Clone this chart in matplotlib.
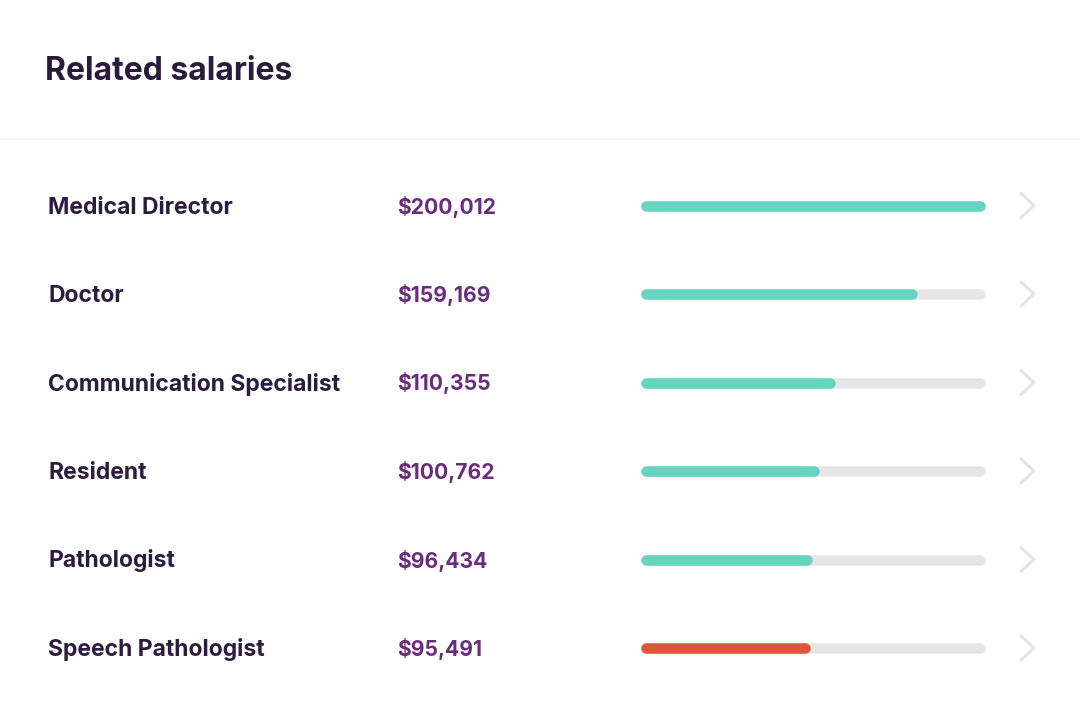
import matplotlib
matplotlib.use("Agg")
import matplotlib.pyplot as plt

# ---- data ----
jobs = ["Medical Director", "Doctor", "Communication Specialist",
        "Resident", "Pathologist", "Speech Pathologist"]
salaries = [200012, 159169, 110355, 100762, 96434, 95491]
highlight = [False, False, False, False, False, True]

TITLE = "Related salaries"
FONT = ["Inter", "DejaVu Sans"]

W, H = 1080, 714
fig = plt.figure(figsize=(W / 100, H / 100), dpi=100)
fig.patch.set_facecolor("white")

# background axes in pixel coords for text / decoration
bg = fig.add_axes([0, 0, 1, 1])
bg.set_xlim(0, W)
bg.set_ylim(H, 0)
bg.axis("off")

bg.text(45, 79.5, TITLE, fontsize=23, fontweight="bold", color="#2a1b3d",
        family=FONT, va="baseline", ha="left")
bg.plot([0, W], [139, 139], color="#efeff1", lw=1.2)

row_y0, row_step = 205.5, 88.5
row_ys = [row_y0 + i * row_step for i in range(len(jobs))]

for job, sal, y in zip(jobs, salaries, row_ys):
    # same baseline for name and salary
    bg.text(48, y + 8, job, fontsize=16.5, fontweight="bold", color="#2b1c40",
            family=FONT, va="baseline", ha="left")
    bg.text(397, y + 8, f"${sal:,}", fontsize=15.2, fontweight="bold", color="#6a2c7c",
            family=FONT, va="baseline", ha="left")
    # chevron
    bg.plot([1021, 1034, 1021], [y - 12, y, y + 12], color="#e4e4e4", lw=2.2,
            solid_capstyle="round", solid_joinstyle="round")

# bar axes: track spans 641..985 px, round caps add 5 px each side
lw_px = 10.5
cap = lw_px / 2
bx0, bx1 = 641 + cap, 985 - cap
bars = fig.add_axes([bx0 / W, 0, (bx1 - bx0) / W, 1])
bars.set_xlim(0, max(salaries))
bars.set_ylim(H, 0)
bars.axis("off")
lw_pt = lw_px * 72 / 100

for sal, y, hl in zip(salaries, row_ys, highlight):
    bars.plot([0, max(salaries)], [y, y], color="#e6e6e6", lw=lw_pt,
              solid_capstyle="round", clip_on=False)
    bars.plot([0, sal], [y, y], color="#e2533b" if hl else "#66d4c0", lw=lw_pt,
              solid_capstyle="round", clip_on=False)

fig.savefig("out.png", dpi=100, facecolor="white")
